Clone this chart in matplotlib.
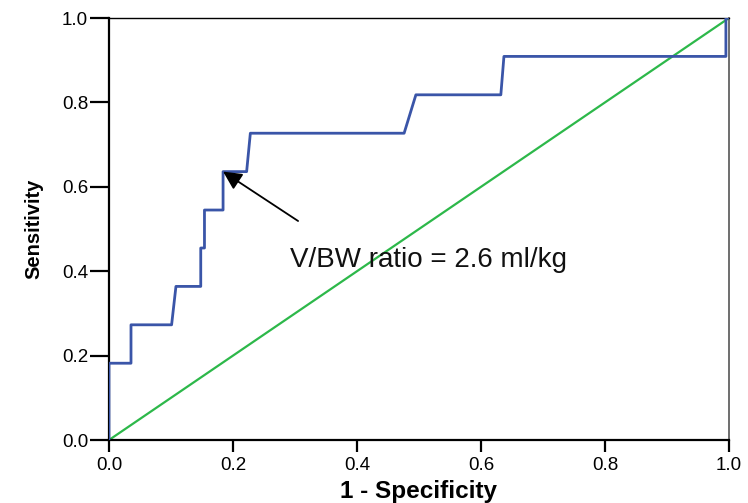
import matplotlib
matplotlib.use("Agg")
import matplotlib.pyplot as plt

plt.rcParams['font.family'] = ['Liberation Sans', 'DejaVu Sans']

# ROC curve
fpr = [0.0, 0.0, 0.0355, 0.0355, 0.101, 0.108, 0.148, 0.148, 0.154, 0.154, 0.184, 0.184,
       0.222, 0.228, 0.476, 0.495, 0.632, 0.637, 0.995, 0.995, 1.0]
tpr = [0.0, 0.182, 0.182, 0.273, 0.273, 0.364, 0.364, 0.455, 0.455, 0.545, 0.545, 0.636,
       0.636, 0.727, 0.727, 0.818, 0.818, 0.909, 0.909, 1.0, 1.0]
ref_line = [0.0, 1.0]
ticks = [0.0, 0.2, 0.4, 0.6, 0.8, 1.0]
tick_labels = ["0.0", "0.2", "0.4", "0.6", "0.8", "1.0"]

annot_text = "V/BW ratio = 2.6 ml/kg"
annot_point = (0.184, 0.636)
annot_tail = (0.305, 0.519)
annot_text_pos = (0.515, 0.427)

fig = plt.figure(figsize=(7.48, 5.03), dpi=100)
ax = fig.add_axes([0.1457, 0.1252, 0.8289, 0.839])

ax.plot(ref_line, ref_line, color='#2db84a', lw=1.6, zorder=2)
ax.plot(fpr, tpr, color='#3a55a8', lw=2.0, zorder=3)

ax.annotate("", xy=annot_point, xytext=annot_tail,
            arrowprops=dict(arrowstyle='-|>', mutation_scale=28, lw=1.3,
                            color='black', shrinkA=0, shrinkB=0), zorder=4)
ax.text(annot_text_pos[0], annot_text_pos[1], annot_text, fontsize=20,
        ha='center', va='center', color='#111111')

ax.set_xlim(0, 1)
ax.set_ylim(0, 1)
ax.set_xticks(ticks)
ax.set_xticklabels(tick_labels)
ax.set_yticks(ticks)
ax.set_yticklabels(tick_labels)
ax.tick_params(axis='x', direction='out', length=8.5, width=1.6, labelsize=13.5, pad=4)
ax.tick_params(axis='y', direction='out', length=14, width=1.6, labelsize=13.5, pad=1)

for s in ['left', 'bottom']:
    ax.spines[s].set_linewidth(1.6)
    ax.spines[s].set_color('black')
ax.spines['top'].set_linewidth(1.0)
ax.spines['top'].set_color('black')
ax.spines['right'].set_linewidth(1.2)
ax.spines['right'].set_color('#555555')

ax.set_xlabel("1 - Specificity", fontsize=17.5, fontweight='bold', labelpad=4)
ax.set_ylabel("Sensitivity", fontsize=14.5, fontweight='bold', labelpad=13)

fig.savefig("out.png", dpi=100)
